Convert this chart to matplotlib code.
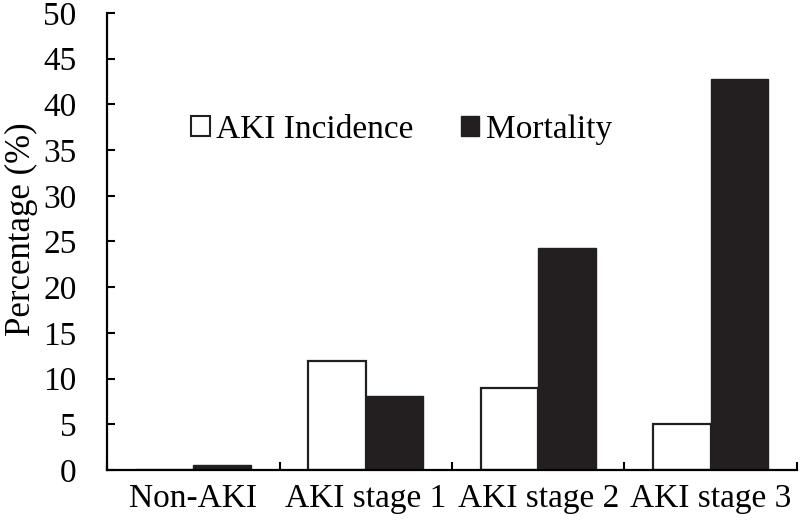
import numpy as np
import matplotlib.pyplot as plt
from matplotlib.patches import Patch

# data
categories = ["Non-AKI", "AKI stage 1", "AKI stage 2", "AKI stage 3"]
aki_incidence = [0.0, 11.9, 9.0, 5.0]
mortality = [0.5, 8.1, 24.3, 42.8]

plt.rcParams['font.family'] = ['Liberation Serif', 'DejaVu Serif']
FS = 24

fig = plt.figure(figsize=(8, 5.29), dpi=100)
ax = fig.add_axes([0.134, 0.1115, 0.862, 0.864])

x = np.arange(len(categories))
w = 1.0 / 3
ax.bar(x - w / 2, aki_incidence, w, color='white', edgecolor='#231f20', linewidth=1.6)
ax.bar(x + w / 2, mortality, w, color='#231f20', edgecolor='#231f20', linewidth=1.0)

ax.set_xlim(-0.5, len(categories) - 0.5)
ax.set_ylim(0, 50)
ax.set_yticks(np.arange(0, 51, 5))
ax.set_xticks(x)
ax.set_xticklabels(categories)
ax.set_xticks(np.arange(-0.5, len(categories), 1), minor=True)
ax.tick_params(axis='x', which='major', length=0, pad=10, labelsize=FS)
ax.tick_params(axis='x', which='minor', length=6, width=1.5, direction='in')
ax.tick_params(axis='y', length=6, width=1.5, direction='in', pad=22, labelsize=FS)

for s in ['top', 'right']:
    ax.spines[s].set_visible(False)
for s in ['left', 'bottom']:
    ax.spines[s].set_linewidth(1.6)

ax.set_ylabel("Percentage (%)", fontsize=25)
ax.yaxis.set_label_coords(-0.1, 0.527)

handles = [Patch(facecolor='white', edgecolor='#231f20', linewidth=1.5),
           Patch(facecolor='#231f20', edgecolor='#231f20')]
ax.legend(handles, ["AKI Incidence", "Mortality"], ncol=2, frameon=False,
          fontsize=FS, handlelength=0.55, handleheight=0.55, handletextpad=0.2,
          columnspacing=1.42, loc='center left', bbox_to_anchor=(0.122, 0.745),
          borderaxespad=0, borderpad=0)

fig.savefig("out.png", dpi=100)
